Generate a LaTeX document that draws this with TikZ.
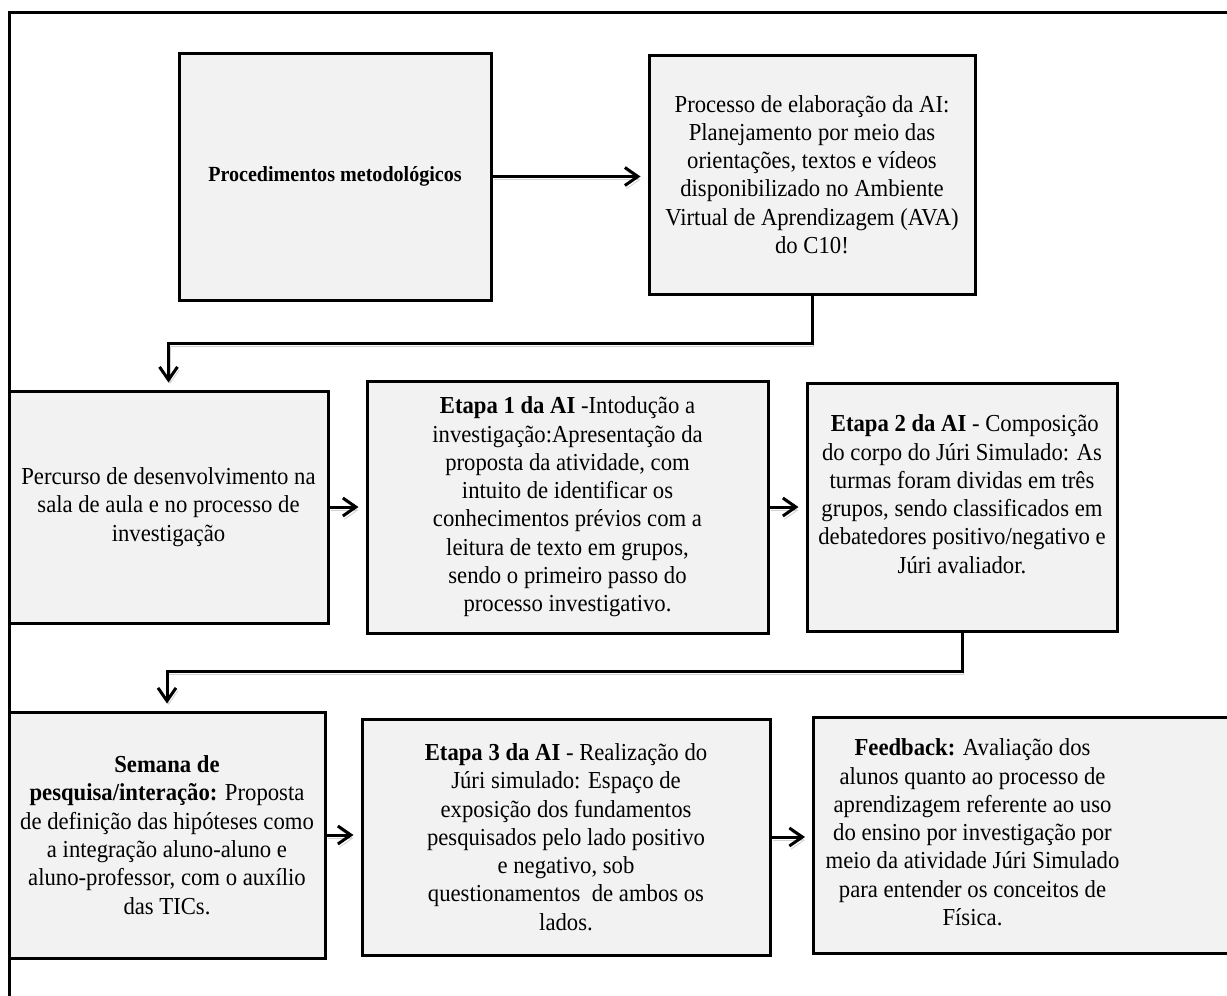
\documentclass[tikz,border=0pt]{standalone}
\usepackage{fontspec}
\setmainfont[FakeStretch=0.93]{Liberation Serif}
\usepackage{tikz}
\usetikzlibrary{arrows.meta}

\definecolor{boxgray}{HTML}{F2F2F2}

\tikzset{
  etapa/.style={draw, line width=1.5pt, fill=boxgray, rectangle, align=center,
    inner sep=0pt, font=\fontsize{12.2}{14.15}\selectfont},
  seta/.style={line width=1.5pt, -{Straight Barb[length=6.5pt, width=9pt]}, shorten >=3.5pt,
    preaction={draw=black!18, transform canvas={shift={(0.8pt,-1.6pt)}}}},
}

\begin{document}
\begin{tikzpicture}[x=0.5pt, y=-0.5pt]
  \useasboundingbox (0,0) rectangle (1227,996);
  \clip (0,0) rectangle (1227,996);
  \fill[white] (0,0) rectangle (1227,996);
  % moldura
  \draw[line width=1.5pt] (9,1100) -- (9,12) -- (1300,12);

  \node (proc) at (335,176.5) [etapa, minimum width=156pt, minimum height=123.5pt, font=\fontsize{10.8}{13}\selectfont]
    {\textbf{Procedimentos metodológicos}};
  \node (elab) at (812,174.5) [etapa, minimum width=163pt, minimum height=119.5pt]
    {Processo de elaboração da AI:\\ Planejamento por meio das\\ orientações, textos e vídeos\\ disponibilizado no Ambiente\\ Virtual de Aprendizagem (AVA)\\ do C10!};
  \node (perc) at (168.5,507) [etapa, minimum width=159.5pt, minimum height=116pt]
    {Percurso de desenvolvimento na\\ sala de aula e no processo de\\ investigação};
  \node (et1) at (567.5,507) [etapa, minimum width=200.5pt, minimum height=126pt]
    {\textbf{Etapa 1 da AI} -Intodução a\\ investigação:Apresentação da\\ proposta da atividade, com\\ intuito de identificar os\\ conhecimentos prévios com a\\ leitura de texto em grupos,\\ sendo o primeiro passo do\\ processo investigativo.};
  \node (et2) at (962,507) [etapa, minimum width=155pt, minimum height=124pt, text depth=13pt]
    {\ \textbf{Etapa 2 da AI} - Composição\\ do corpo do Júri Simulado: As\\ turmas foram dividas em três\\ grupos, sendo classificados em\\ debatedores positivo/negativo e\\ Júri avaliador.};
  \node (sem) at (167,835) [etapa, minimum width=158pt, minimum height=123pt]
    {\textbf{Semana de}\\ \textbf{pesquisa/interação:} Proposta\\ de definição das hipóteses como\\ a integração aluno-aluno e\\ aluno-professor, com o auxílio\\ das TICs.};
  \node (et3) at (566,837) [etapa, minimum width=204pt, minimum height=118pt]
    {\textbf{Etapa 3 da AI} - Realização do\\ Júri simulado: Espaço de\\ exposição dos fundamentos\\ pesquisados pelo lado positivo\\ e negativo, sob\\ questionamentos \ de ambos os\\ lados.};
  \node (feed) at (812,835) [etapa, anchor=west, minimum width=214pt, minimum height=118pt]
    {\hspace*{79.5pt}\makebox[0pt]{\begin{tabular}{@{}c@{}}\textbf{Feedback:} Avaliação dos\\ alunos quanto ao processo de\\ aprendizagem referente ao uso\\ do ensino por investigação por\\ meio da atividade Júri Simulado\\ para entender os conceitos de\\ Física.\end{tabular}}\hspace*{134.5pt}};

  \draw[seta] (proc.east) -- (proc.east -| elab.west);
  \draw[seta] (elab.south) -- ++(0,48) -| (perc.north);
  \draw[seta] (perc.east) -- (perc.east -| et1.west);
  \draw[seta] (et1.east) -- (et1.east -| et2.west);
  \draw[seta] (et2.south) -- ++(0,39) -| (sem.north);
  \draw[seta] (sem.east) -- (sem.east -| et3.west);
  \draw[seta] (et3.east) -- (et3.east -| feed.west);
\end{tikzpicture}
\end{document}
